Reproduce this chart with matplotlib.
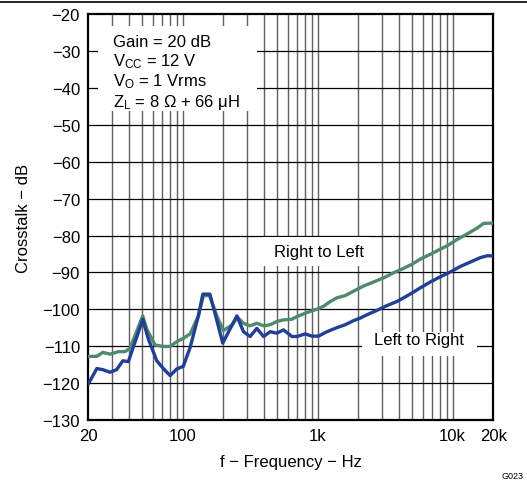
import matplotlib
matplotlib.use("Agg")
import matplotlib.pyplot as plt
from matplotlib.lines import Line2D
from matplotlib.patches import Rectangle
from matplotlib.ticker import FixedLocator, NullFormatter

plt.rcParams['font.family'] = ['Liberation Sans', 'DejaVu Sans']

# Right to Left (green)
rl_freq = [20, 23.1, 25.6, 29, 33.4, 37.4, 40.7, 50.6, 54.2, 62.4, 71.9, 80.7, 90.4, 101,
           113.5, 130.7, 142.5, 157.8, 179, 200, 231, 255, 282, 316, 354, 397, 445, 499,
           558, 644, 702, 832, 986, 1105, 1239, 1387, 1600, 1843, 2187, 2595, 3078, 3650,
           4330, 4990, 5755, 6825, 8095, 9070, 10760, 12760, 15140, 16960, 20000]
rl_db = [-112.8, -112.8, -111.7, -112.2, -111.5, -111.5, -110.6, -101.8, -105.4, -109.7,
         -110.1, -110.1, -108.8, -107.9, -106.7, -101.8, -96.3, -96.3, -101.8, -105.8,
         -104.3, -102.2, -103.8, -104.5, -103.8, -104.5, -104.2, -103.3, -102.9, -102.7,
         -102.0, -100.9, -100.0, -99.2, -97.9, -96.9, -96.3, -95.1, -93.7, -92.6, -91.5,
         -90.1, -88.9, -87.8, -86.4, -85.1, -83.7, -82.8, -81.1, -79.6, -78.0, -76.7, -76.6]

# Left to Right (blue)
lr_freq = [20, 23.1, 25.6, 29, 32.4, 36, 39.6, 50.6, 55.7, 64.3, 71.9, 80.7, 90.4, 101,
           113.5, 130.7, 141, 159, 174, 198, 224, 252, 282, 316, 354, 397, 445, 499, 558,
           644, 702, 808, 906, 1014, 1170, 1387, 1600, 1843, 2065, 2317, 2748, 3260, 3865,
           4330, 4990, 5755, 6825, 8095, 9600, 11380, 13500, 16030, 17960, 20000]
lr_db = [-120.3, -116.1, -116.4, -117.1, -116.4, -114.0, -114.2, -102.8, -108.1, -114.0,
         -116.1, -118.0, -116.2, -115.5, -110.4, -101.8, -95.9, -95.9, -101.3, -109.2,
         -105.4, -101.8, -106.1, -107.4, -105.2, -107.4, -106.1, -106.5, -105.6, -107.4,
         -107.4, -106.7, -107.3, -107.3, -106.1, -105.0, -104.2, -103.1, -102.4, -101.5,
         -100.3, -99.0, -97.9, -96.9, -95.6, -94.2, -92.6, -91.2, -89.9, -88.4, -87.2,
         -86.0, -85.5, -85.5]

x_ticks = [20, 100, 1000, 10000, 20000]
x_labels = ['20', '100', '1k', '10k', '20k']
y_ticks = list(range(-130, -19, 10))
conditions = ['Gain = 20 dB', '$\\mathregular{V_{CC}}$ = 12 V',
              '$\\mathregular{V_{O}}$ = 1 Vrms', '$\\mathregular{Z_{L}}$ = 8 \u03a9 + 66 \u03bcH']

fig = plt.figure(figsize=(5.27, 4.85), dpi=100)
ax = fig.add_axes([0.1676, 0.1324, 0.7685, 0.8358])

ax.set_xscale('log')
ax.set_xlim(20, 20000)
ax.set_ylim(-130, -20)

# vertical grid at every 1-9 x decade step
minors = [m * 10 ** d for d in range(1, 5) for m in range(1, 10) if 20 < m * 10 ** d < 20000]
for f in minors:
    ax.axvline(f, color='#606060', lw=1.0, zorder=1)
for v in y_ticks[1:-1]:
    ax.axhline(v, color='black', lw=0.9, zorder=1)

# white boxes behind the labels
ax.add_patch(Rectangle((0.024, 0.7625), 0.3925, 0.2095, transform=ax.transAxes,
                       facecolor='white', edgecolor='none', zorder=2))
ax.add_patch(Rectangle((388, -88.2), 2449 - 388, 7.9, facecolor='white',
                       edgecolor='none', zorder=2))
ax.add_patch(Rectangle((2127, -112.7), 15140 - 2127, 6.6, facecolor='white',
                       edgecolor='none', zorder=2))

ax.plot(rl_freq, rl_db, color='#4e8a6c', lw=2.4, zorder=3)
ax.plot(lr_freq, lr_db, color='#1f3f98', lw=2.4, zorder=4)

ax.xaxis.set_major_locator(FixedLocator(x_ticks))
ax.xaxis.set_minor_locator(FixedLocator([]))
ax.xaxis.set_minor_formatter(NullFormatter())
ax.set_xticklabels(x_labels)
ax.set_yticks(y_ticks)
ax.set_yticklabels(['\u2212%d' % abs(v) for v in y_ticks])
ax.tick_params(length=0, labelsize=12, pad=6)
for s in ax.spines.values():
    s.set_linewidth(1.6)

ax.set_xlabel('f \u2212 Frequency \u2212 Hz', fontsize=12, labelpad=8)
ax.set_ylabel('Crosstalk \u2212 dB', fontsize=12, labelpad=8)

for i, line in enumerate(conditions):
    ax.text(30.6, -28.5 - 5.43 * i, line, fontsize=12, va='baseline', ha='left', zorder=5)
ax.text(1023, -84.2, 'Right to Left', fontsize=12, ha='center', va='center', zorder=5)
ax.text(5590, -108.3, 'Left to Right', fontsize=12, ha='center', va='center', zorder=5)

fig.add_artist(Line2D([0, 1], [1 - 3 / 485, 1 - 3 / 485], color='black', lw=1.2))
fig.text(0.993, 0.008, 'G023', fontsize=6.5, ha='right', va='bottom')

fig.savefig('out.png', dpi=100)
